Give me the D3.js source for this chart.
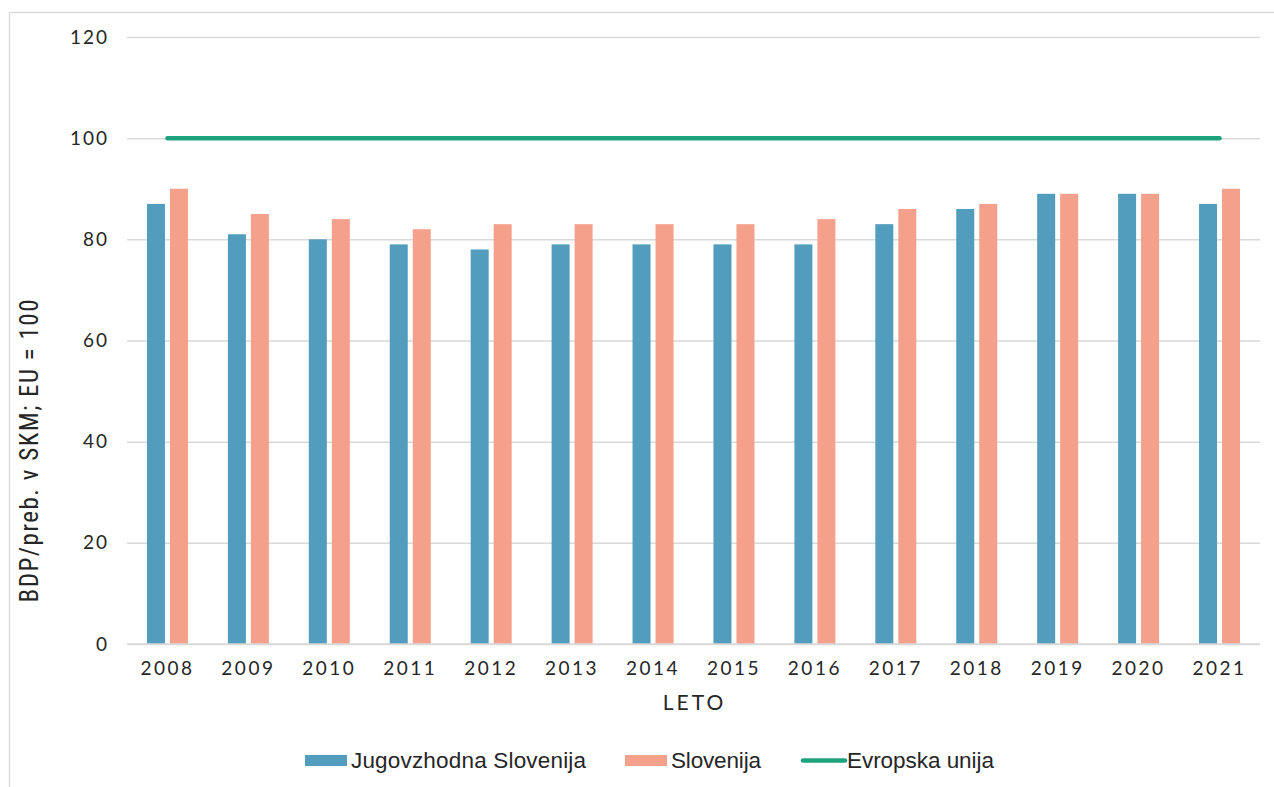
<!DOCTYPE html>
<html><head><meta charset="utf-8">
<script src="https://cdn.jsdelivr.net/npm/d3@7"></script>
<style>
body{margin:0;background:#fff;}
svg{display:block;}
.tick text{font-family:Lato,"DejaVu Sans",sans-serif;}
</style></head>
<body><svg id="c" width="1274" height="787"></svg>
<script>
const years = ["2008","2009","2010","2011","2012","2013","2014","2015","2016","2017","2018","2019","2020","2021"];
const jugovzhodna = [87,81,80,79,78,79,79,79,79,83,86,89,89,87];
const slovenija = [90,85,84,82,83,83,83,83,84,86,87,89,89,90];
const evropska = [100,100,100,100,100,100,100,100,100,100,100,100,100,100];
const yTicks = [0,20,40,60,80,100,120];
const seriesNames = ["Jugovzhodna Slovenija","Slovenija","Evropska unija"];

const colors = {blue:"#529DBD", salmon:"#F5A08A", green:"#1FA37F"};
const svg = d3.select("#c");
const L=127, R=1260, T=37, B=644;

// frame
svg.append("rect").attr("x",9.5).attr("y",12.5).attr("width",1300).attr("height",900)
  .attr("fill","none").attr("stroke","#d9d9d9").attr("stroke-width",1.3);

const pi = 1-41/((R-L)/14);
const x0 = d3.scaleBand().domain(years).range([L,R]).paddingInner(pi).paddingOuter(pi/2);
const x1 = d3.scaleBand().domain(["j","s"]).range([0,x0.bandwidth()]).paddingInner(2-41/23);
const y = d3.scaleLinear().domain([0,120]).range([B,T]);

// grid
const ya = d3.axisLeft(y).tickValues(yTicks).tickSize(-(R-L)).tickPadding(18);
const gy = svg.append("g").attr("transform",`translate(${L},0)`).call(ya);
gy.select(".domain").remove();
gy.selectAll(".tick line").attr("stroke","#d9d9d9").attr("stroke-width",1.5);
gy.selectAll(".tick text").attr("font-size",19).attr("fill","#262626").attr("letter-spacing",2);

// bars
const data = years.map((yr,i)=>({yr, j:jugovzhodna[i], s:slovenija[i]}));
const g = svg.append("g");
g.selectAll("rect.j").data(data).join("rect").attr("class","j")
  .attr("x",d=>x0(d.yr)+x1("j")).attr("width",x1.bandwidth())
  .attr("y",d=>y(d.j)).attr("height",d=>y(0)-y(d.j)).attr("fill",colors.blue);
g.selectAll("rect.s").data(data).join("rect").attr("class","s")
  .attr("x",d=>x0(d.yr)+x1("s")).attr("width",x1.bandwidth())
  .attr("y",d=>y(d.s)).attr("height",d=>y(0)-y(d.s)).attr("fill",colors.salmon);

// baseline redraw
svg.append("line").attr("x1",L).attr("x2",R).attr("y1",y(0)).attr("y2",y(0)).attr("stroke","#d9d9d9").attr("stroke-width",1.5);

// EU line
const line = d3.line().x((d,i)=>x0(years[i])+x0.bandwidth()/2).y(d=>y(d));
svg.append("path").datum(evropska).attr("d",line).attr("fill","none")
  .attr("stroke",colors.green).attr("stroke-width",4.5).attr("stroke-linecap","round");

// x axis
const xa = d3.axisBottom(x0).tickSize(0).tickPadding(18);
const gx = svg.append("g").attr("transform",`translate(0,${B})`).call(xa);
gx.select(".domain").remove();
gx.selectAll(".tick text").attr("font-size",19).attr("fill","#262626").attr("letter-spacing",2.5);

// axis titles
svg.append("text").attr("x",(L+R)/2+1).attr("y",710).attr("text-anchor","middle")
  .attr("font-family","Lato, sans-serif").attr("font-size",21).attr("letter-spacing",3).attr("fill","#262626").text("LETO");
svg.append("text").attr("transform","translate(38,451) rotate(-90)").attr("text-anchor","middle")
  .attr("font-family","'Liberation Sans Narrow','Roboto Condensed',sans-serif").attr("font-size",25)
  .attr("textLength",303).attr("lengthAdjust","spacing").attr("fill","#262626")
  .text("BDP/preb. v SKM; EU = 100");

// legend
const leg = [
  {name:seriesNames[0], type:"rect", c:colors.blue, x:305, w:235},
  {name:seriesNames[1], type:"rect", c:colors.salmon, x:625, w:90},
  {name:seriesNames[2], type:"line", c:colors.green, x:801, w:147}
];
const lg = svg.append("g");
leg.forEach(d=>{
  if(d.type==="rect") lg.append("rect").attr("x",d.x).attr("y",755).attr("width",42).attr("height",11).attr("fill",d.c);
  else lg.append("line").attr("x1",d.x+2).attr("x2",d.x+44).attr("y1",760.5).attr("y2",760.5).attr("stroke",d.c).attr("stroke-width",4.5).attr("stroke-linecap","round");
  lg.append("text").attr("x",d.x+46).attr("y",768).attr("font-family","'Liberation Sans Narrow',sans-serif")
    .attr("font-size",22.5).attr("textLength",d.w).attr("lengthAdjust","spacing").attr("fill","#262626").text(d.name);
});
</script></body></html>
